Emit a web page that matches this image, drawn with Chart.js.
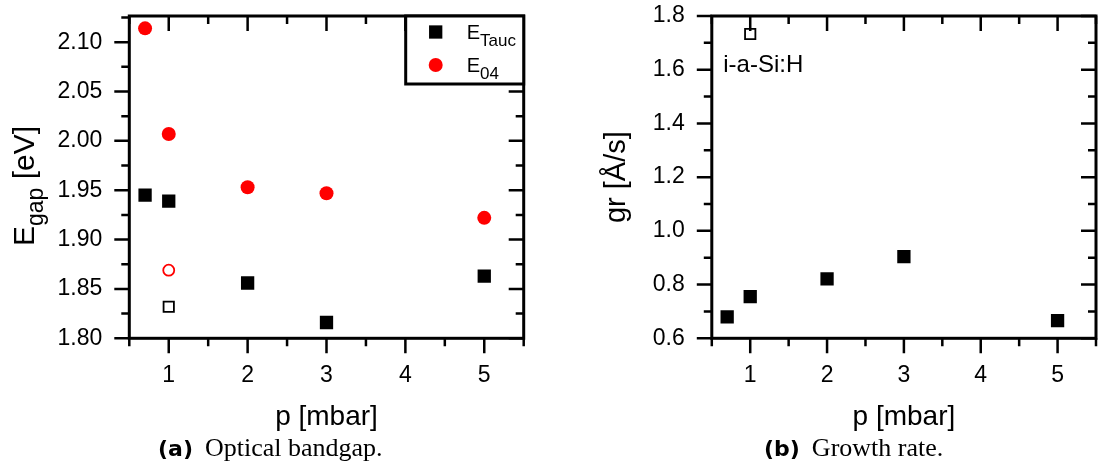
<!DOCTYPE html>
<html>
<head>
<meta charset="utf-8">
<script src="https://cdn.jsdelivr.net/npm/chart.js@4.4.0/dist/chart.umd.min.js"></script>
<style>
    html, body { margin: 0; padding: 0; background: #fff; width: 1098px; height: 471px; overflow: hidden; position: relative; }
    #chartA { position: absolute; left: 0; top: 0; }
    #chartB { position: absolute; left: 560px; top: 0; }
    .caption { position: absolute; top: 436px; line-height: 24px; white-space: nowrap; color: #000; }
    .caption b { font-family: "DejaVu Sans"; font-weight: bold; font-size: 22px; }
    .caption span { font-family: "Liberation Serif"; font-size: 26px; margin-left: 12px; }
</style>
</head>
<body>
<canvas id="chartA" width="550" height="440"></canvas>
<canvas id="chartB" width="560" height="440"></canvas>
<div class="caption" style="left:158px"><b>(a)</b><span>Optical bandgap.</span></div>
<div class="caption" style="left:764px"><b>(b)</b><span>Growth rate.</span></div>
<script>
// pressure in mbar
const pressure = [0.7, 1, 2, 3, 5];
const eTauc = [1.945, 1.939, 1.856, 1.816, 1.863];
const e04 = [2.114, 2.007, 1.953, 1.947, 1.922];
// intrinsic a-Si:H reference (open symbols)
const refPressure = [1];
const eTaucRef = [1.832];
const e04Ref = [1.869];
const growthRate = [0.680, 0.755, 0.821, 0.904, 0.666];
const growthRef = [1.733];

const xTicksMin = 0.5, xTicksMax = 5.5;
const FONT = '"Liberation Sans", Arial, sans-serif';

function pts(xs, ys) {
    return xs.map((x, i) => ({ x: x, y: ys[i] }));
}

function isMultiple(v, step) {
    return Math.abs(v / step - Math.round(v / step)) < 1e-6;
}

// frame with major/minor ticks: outward on left/bottom, inward on top/right
const framePlugin = {
    id: 'frame',
    afterDatasetsDraw(chart) {
        const { ctx, chartArea: a, scales: { x, y } } = chart;
        ctx.save();
        ctx.strokeStyle = '#000';
        ctx.lineWidth = 2.5;
        ctx.beginPath();
        x.ticks.forEach((t) => {
            const px = x.getPixelForValue(t.value);
            const len = t.label !== '' ? 15 : 8;
            ctx.moveTo(px, a.bottom); ctx.lineTo(px, a.bottom + len);
            ctx.moveTo(px, a.top); ctx.lineTo(px, a.top + len);
        });
        y.ticks.forEach((t) => {
            const py = y.getPixelForValue(t.value);
            const len = t.label !== '' ? 15 : 8;
            ctx.moveTo(a.left, py); ctx.lineTo(a.left - len, py);
            ctx.moveTo(a.right, py); ctx.lineTo(a.right - len, py);
        });
        ctx.stroke();
        ctx.lineWidth = 3;
        ctx.strokeRect(a.left, a.top, a.right - a.left, a.bottom - a.top);
        ctx.restore();
    }
};

// legend for (a), with subscripts
const legendPlugin = {
    id: 'subLegend',
    afterDraw(chart) {
        const { ctx, chartArea: a } = chart;
        const w = 118, h = 68;
        ctx.save();
        ctx.fillStyle = '#fff';
        ctx.fillRect(a.right - w, a.top, w, h);
        ctx.strokeStyle = '#000';
        ctx.lineWidth = 3;
        ctx.strokeRect(a.right - w, a.top, w, h);

        const ds = chart.data.datasets;
        const rows = [
            { ds: ds[0], main: 'E', sub: 'Tauc', y: a.top + 16 },
            { ds: ds[1], main: 'E', sub: '04', y: a.top + 49 },
        ];
        rows.forEach((r) => {
            ctx.fillStyle = r.ds.backgroundColor;
            Chart.helpers.drawPoint(ctx, { pointStyle: r.ds.pointStyle, radius: r.ds.pointRadius, borderWidth: 0, rotation: 0 }, a.right - 88, r.y);
            ctx.fillStyle = '#000';
            ctx.textBaseline = 'alphabetic';
            ctx.font = '20px ' + FONT;
            ctx.fillText(r.main, a.right - 57, r.y + 7);
            const mw = ctx.measureText(r.main).width;
            ctx.font = '17px ' + FONT;
            ctx.fillText(r.sub, a.right - 57 + mw, r.y + 14);
        });
        ctx.restore();
    }
};

// rotated y title E_gap [eV]
const yTitlePlugin = {
    id: 'yTitleSub',
    afterDraw(chart) {
        const ctx = chart.ctx;
        ctx.save();
        ctx.fillStyle = '#000';
        ctx.textBaseline = 'alphabetic';
        ctx.font = '30px ' + FONT;
        const wE = ctx.measureText('E').width;
        const wRest = ctx.measureText(' [eV]').width;
        ctx.font = '23px ' + FONT;
        const wSub = ctx.measureText('gap').width;
        const total = wE + wSub + wRest;
        ctx.translate(34, 186 + total / 2);
        ctx.rotate(-Math.PI / 2);
        ctx.font = '30px ' + FONT;
        ctx.fillText('E', 0, 0);
        ctx.font = '23px ' + FONT;
        ctx.fillText('gap', wE, 9);
        ctx.font = '30px ' + FONT;
        ctx.fillText(' [eV]', wE + wSub, 0);
        ctx.restore();
    }
};

const labelPlugin = {
    id: 'refLabel',
    afterDraw(chart) {
        const { ctx, scales: { x, y } } = chart;
        ctx.save();
        ctx.fillStyle = '#000';
        ctx.font = '24px ' + FONT;
        ctx.textBaseline = 'alphabetic';
        ctx.fillText('i-a-Si:H', x.getPixelForValue(refPressure[0]) - 27, y.getPixelForValue(growthRef[0]) + 38);
        ctx.restore();
    }
};

function xScale(height) {
    return {
        type: 'linear',
        min: xTicksMin,
        max: xTicksMax,
        grid: { display: false, drawTicks: false },
        border: { display: false },
        ticks: {
            stepSize: 0.5,
            autoSkip: false,
            maxRotation: 0,
            padding: 24,
            color: '#000',
            font: { family: FONT, size: 23 },
            callback: (v) => isMultiple(v, 1) ? String(Math.round(v)) : '',
        },
        title: {
            display: true,
            text: 'p [mbar]',
            color: '#000',
            font: { family: FONT, size: 28 },
            padding: { top: 0, bottom: 6 },
        },
        afterFit: (s) => { s.height = height; },
    };
}

const common = {
    responsive: false,
    animation: false,
    events: [],
    plugins: { legend: { display: false }, tooltip: { enabled: false } },
};

new Chart(document.getElementById('chartA'), {
    type: 'scatter',
    data: {
        datasets: [
            { label: 'ETauc', data: pts(pressure, eTauc), pointStyle: 'rect', pointRadius: 9.4, backgroundColor: '#000', borderWidth: 0 },
            { label: 'E04', data: pts(pressure, e04), pointStyle: 'circle', pointRadius: 7, backgroundColor: '#ff0000', borderWidth: 0 },
            { label: 'ETauc ref', data: pts(refPressure, eTaucRef), pointStyle: 'rect', pointRadius: 7.3, backgroundColor: '#fff', borderColor: '#000', borderWidth: 1.8 },
            { label: 'E04 ref', data: pts(refPressure, e04Ref), pointStyle: 'circle', pointRadius: 5.5, backgroundColor: '#fff', borderColor: '#ff0000', borderWidth: 1.8 },
        ],
    },
    options: {
        ...common,
        layout: { autoPadding: false, padding: { top: 16, right: 26.3, bottom: 0, left: 0 } },
        scales: {
            x: xScale(101.7),
            y: {
                type: 'linear',
                min: 1.8,
                max: 2.1265,
                grid: { display: false, drawTicks: false },
                border: { display: false },
                ticks: {
                    stepSize: 0.025,
                    includeBounds: false,
                    autoSkip: false,
                    padding: 27,
                    color: '#000',
                    font: { family: FONT, size: 23 },
                    callback: (v) => isMultiple(v, 0.05) ? v.toFixed(2) : '',
                },
                afterFit: (s) => { s.width = 129.3; s.paddingTop = 0; s.paddingBottom = 0; },
            },
        },
    },
    plugins: [framePlugin, legendPlugin, yTitlePlugin],
});

new Chart(document.getElementById('chartB'), {
    type: 'scatter',
    data: {
        datasets: [
            { label: 'gr', data: pts(pressure, growthRate), pointStyle: 'rect', pointRadius: 9.4, backgroundColor: '#000', borderWidth: 0 },
            { label: 'i-a-Si:H', data: pts(refPressure, growthRef), pointStyle: 'rect', pointRadius: 7.3, backgroundColor: '#fff', borderColor: '#000', borderWidth: 1.8 },
        ],
    },
    options: {
        ...common,
        layout: { autoPadding: false, padding: { top: 16, right: 15.1, bottom: 0, left: 0 } },
        scales: {
            x: xScale(101.7),
            y: {
                type: 'linear',
                min: 0.6,
                max: 1.8,
                grid: { display: false, drawTicks: false },
                border: { display: false },
                ticks: {
                    stepSize: 0.1,
                    autoSkip: false,
                    padding: 27,
                    color: '#000',
                    font: { family: FONT, size: 23 },
                    callback: (v) => isMultiple(v, 0.2) ? v.toFixed(1) : '',
                },
                title: {
                    display: true,
                    text: 'gr [Å/s]',
                    color: '#000',
                    font: { family: FONT, size: 29 },
                    padding: { top: 40, bottom: 0 },
                },
                afterFit: (s) => { s.width = 151.8; s.paddingTop = 0; s.paddingBottom = 0; },
            },
        },
    },
    plugins: [framePlugin, labelPlugin],
});
</script>
</body>
</html>
